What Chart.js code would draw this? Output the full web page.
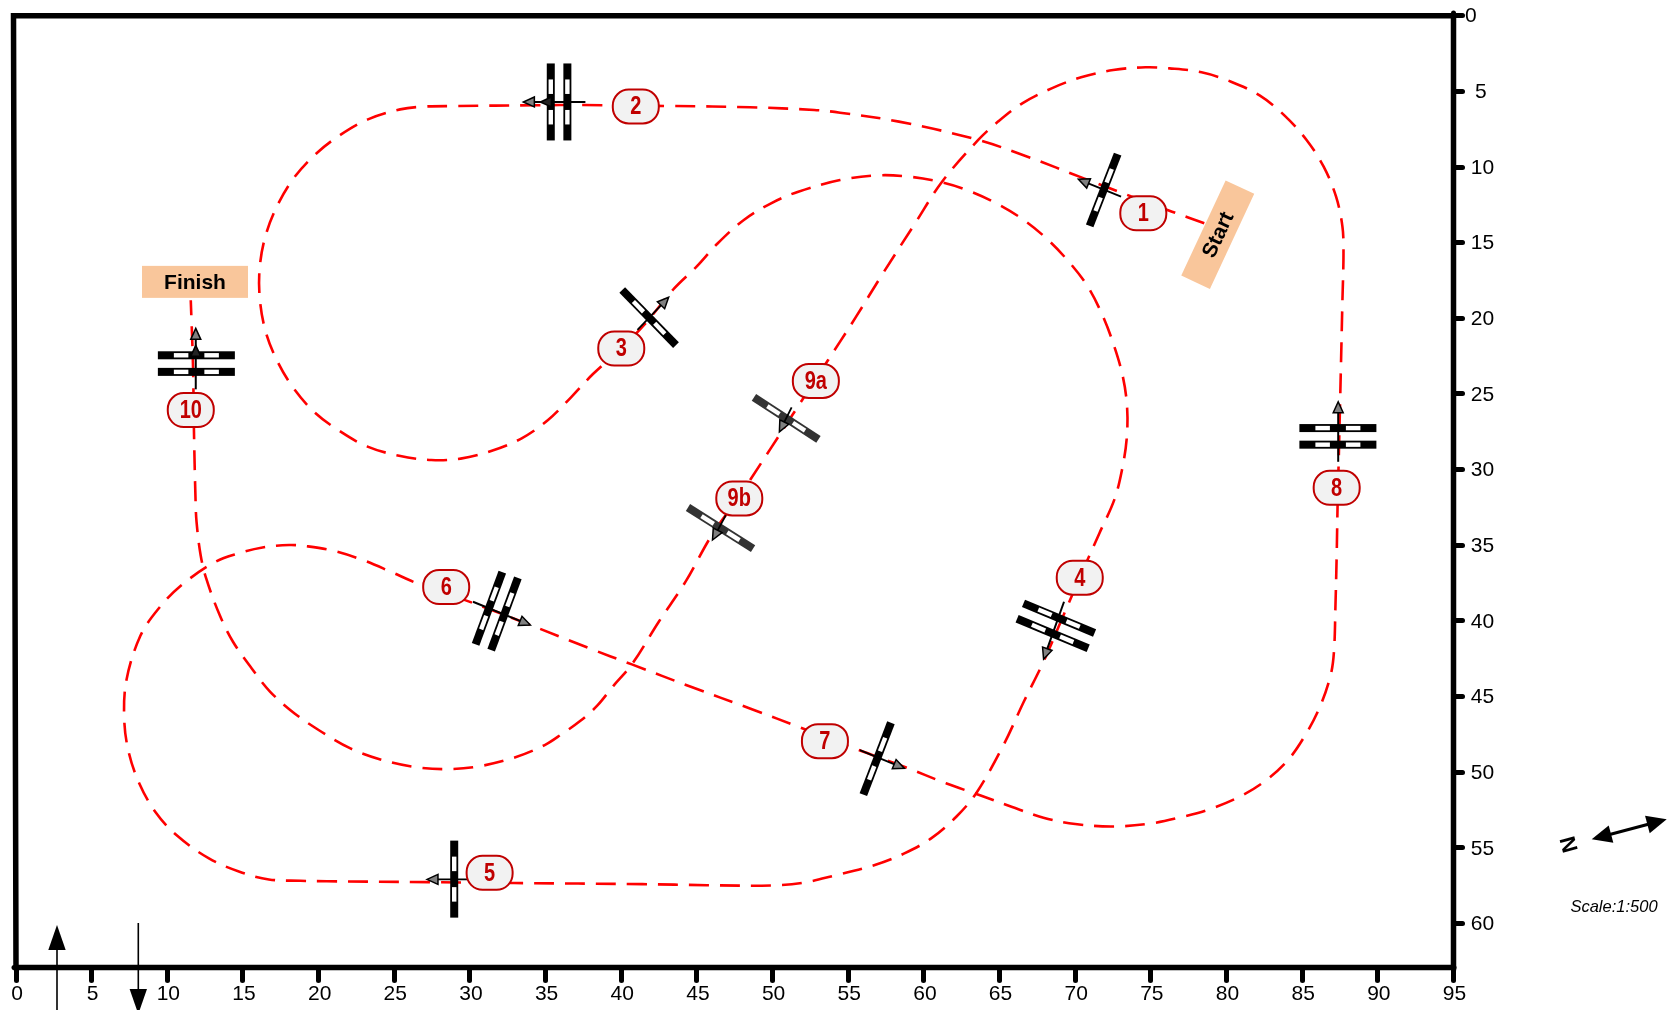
<!DOCTYPE html>
<html>
<head>
<meta charset="utf-8">
<title>Course diagram</title>
<script src="https://cdn.jsdelivr.net/npm/chart.js@4"></script>
<style>
    html, body { margin: 0; padding: 0; background: #ffffff; }
    canvas { display: block; }
</style>
</head>
<body>
<canvas id="courseChart" width="1680" height="1010"></canvas>
<script>
/* ---- DATA (axis units) ---- */
const xTicks = [0, 5, 10, 15, 20, 25, 30, 35, 40, 45, 50, 55, 60, 65, 70, 75, 80, 85, 90, 95];
const yTicks = [0, 5, 10, 15, 20, 25, 30, 35, 40, 45, 50, 55, 60];

const pathX = [
    78.53, 76.4, 73.75, 70.57, 66.85, 63.59, 58.35, 54.46, 52.75, 48.5, 43.5, 40.96, 37.5, 34.3, 29.03, 26.9,
    25.39, 23.26, 21.46, 19.83, 18.38, 17.28, 16.5, 16.11, 16.11, 16.47, 17.2, 18.27, 19.69, 21.35, 23.19, 25.32,
    27.44, 29.39, 31.4, 33.42, 35.16, 36.68, 38.13, 40, 41.6, 43.5, 44.96, 46.38, 48.1, 49.9, 51.7, 54.46,
    56.94, 59.06, 61.2, 62.78, 64.65, 66.5, 68.09, 69.57, 70.85, 71.81, 72.55, 73.15, 73.43, 73.4, 73.08, 72.58,
    71.6, 70.4, 69.15, 67.9, 66.6, 65.26, 63.49, 62.14, 60.48, 58.71, 56.76, 54, 52, 49.9, 45.67, 41.4,
    32.9, 27.26, 20.54, 18.8, 16.71, 14.77, 12.75, 10.6, 9.2, 8.15, 7.44, 7.15, 7.3, 8.22, 9.4,
    10.87, 13.1, 14.7, 16.29, 18.06, 19.3, 21.07, 23.0, 24.78, 26.48, 30.09, 34, 37.9, 40.7, 44.6, 48.5,
    52, 55.7, 58.7, 61.5, 63.66, 65.79, 67.9, 70, 72.5, 75, 77.1, 78.71, 80.73, 82.42, 84.02, 85.26,
    86.18, 86.88, 87.1, 87.2, 87.28, 87.34, 87.42, 87.56, 87.66, 87.73, 87.66, 87.24, 86.42, 85.29, 83.84, 82.21,
    80.3, 78.35, 76.23, 74.64, 72.51, 70.39, 68.44, 66.5, 64.9, 63.59, 61.2, 59.42, 57.29, 55.52, 54.46, 52.9,
    51.33, 49.9, 48.5, 47.79, 46, 44.25, 42.48, 40.7, 39.47, 38.41, 37.3, 36.1, 34.94, 32.96, 30.45, 28.3, 26.2,
    24.08, 22.1, 20.18, 18.41, 16.8, 15.58, 14.34, 13.46, 12.57, 12.2, 11.93, 11.86, 11.76, 11.7, 11.55
];
const pathY = [
    13.72, 12.95, 11.96, 10.75, 9.32, 8.21, 7.0, 6.41, 6.23, 6.05, 5.97, 5.95, 5.9, 5.92, 5.97, 6.01,
    6.19, 6.85, 7.86, 9.12, 10.7, 12.53, 14.51, 16.59, 18.68, 20.77, 22.69, 24.52, 26.17, 27.42, 28.46, 29.08,
    29.36, 29.27, 28.77, 27.93, 26.72, 25.22, 23.68, 21.98, 20.33, 18.02, 16.6, 15.04, 13.5, 12.4, 11.63, 10.86,
    10.55, 10.64, 11.01, 11.5, 12.33, 13.43, 14.71, 16.25, 17.93, 19.82, 21.76, 23.86, 25.88, 27.98, 30.07, 32.0,
    34.2, 36.9, 39.8, 42.7, 45.34, 48.2, 51.33, 52.94, 54.37, 55.36, 56.13, 56.85, 57.3, 57.48, 57.46, 57.39,
    57.32, 57.26, 57.2, 57.17, 57.08, 56.57, 55.69, 54.15, 52.6, 50.74, 48.64, 46.44, 43.9, 40.98, 39.21,
    37.69, 36.13, 35.53, 35.14, 34.98, 35.07, 35.38, 36, 36.75, 37.5, 38.77, 40.27, 41.81, 42.87, 44.35, 45.78,
    47.1, 48.53, 49.63, 50.74, 51.5, 52.28, 53, 53.42, 53.58, 53.38, 52.94, 52.5, 51.68, 50.67, 49.24, 47.45,
    45.65, 43.58, 42.03, 38.95, 35.64, 32.34, 29.14, 23.2, 18.79, 15.7, 13.94, 11.96, 9.98, 8.21, 6.6, 5.28,
    4.36, 3.74, 3.48, 3.41, 3.59, 4.07, 4.8, 5.79, 7.0, 8.21, 10.97, 13.72, 17.03, 19.89, 21.54, 23.94,
    26.36, 28.56, 30.71, 31.8, 34.3, 37.4, 40.05, 42.87, 44.3, 45.6, 46.6, 47.45, 48.2, 49.02, 49.63, 49.79, 49.63,
    49.15, 48.42, 47.32, 46.11, 44.68, 43.14, 41.37, 39.61, 37.19, 35.64, 33.44, 31.8, 27.4, 23.2, 18.8
];

const stopLabels = ['1', '2', '3', '4', '5', '6', '7', '8', '9a', '9b', '10'];
const stopX = [74.5, 40.96, 40.0, 70.3, 31.3, 28.43, 53.46, 87.28, 52.86, 47.8, 11.55];
const stopY = [13.06, 6.0, 22.0, 37.14, 56.64, 37.76, 47.94, 31.2, 24.14, 31.9, 26.06];

const gateX = [71.88, 35.89, 41.84, 68.72, 28.96, 31.77, 56.91, 87.36, 50.9, 46.56, 11.92];
const gateY = [11.52, 5.7, 19.95, 40.32, 57.06, 39.35, 49.1, 27.8, 26.61, 33.86, 22.99];
const gateAngle = [111.3, 90, 45.7, 22.6, 90, 110.3, 111, 0, 33.1, 32.3, 0];
const gateBars = [1, 2, 1, 2, 1, 2, 1, 2, 1, 1, 2];

const arrowTailX = [73.03, 37.63, 41.07, 69.26, 30.17, 30.2, 55.77, 87.38, 51.26, 46.91, 11.88];
const arrowTailY = [11.96, 5.7, 20.77, 38.73, 57.08, 38.73, 48.53, 29.48, 25.88, 33, 24.69];
const arrowTipX = [70.21, 33.53, 43.13, 67.91, 27.16, 33.99, 58.71, 87.38, 50.45, 46.03, 11.88];
const arrowTipY = [10.81, 5.7, 18.61, 42.52, 57.08, 40.27, 49.74, 25.51, 27.5, 34.65, 20.66];

const boxLabels = ['Start', 'Finish'];
const boxX = [79.42, 11.83];
const boxY = [14.47, 17.59];

const northLabel = 'N';
const scaleLabel = 'Scale:1:500';

/* ---- COLOURS ---- */
const RED = '#ff0000';
const DARK_RED = '#c00000';
const BOX_FILL = '#f9c69b';
const FONT = '"Liberation Sans", Arial, sans-serif';

/* ---- HELPERS ---- */
function arrowHead(ctx, tipX, tipY, angle, length, halfWidth, fill, stroke) {
    ctx.save();
    ctx.translate(tipX, tipY);
    ctx.rotate(angle);
    ctx.beginPath();
    ctx.moveTo(0, 0);
    ctx.lineTo(-length, -halfWidth);
    ctx.lineTo(-length, halfWidth);
    ctx.closePath();
    ctx.fillStyle = fill;
    ctx.fill();
    if (stroke) {
        ctx.strokeStyle = stroke;
        ctx.lineWidth = 1.5;
        ctx.lineJoin = 'miter';
        ctx.stroke();
    }
    ctx.restore();
}

function drawGate(ctx, scales, i) {
    const cx = scales.x.getPixelForValue(gateX[i]);
    const cy = scales.y.getPixelForValue(gateY[i]);
    const dark = stopLabels[i].startsWith('9');
    const offsets = gateBars[i] === 2 ? [-8.3, 8.3] : [0];

    ctx.save();
    ctx.translate(cx, cy);
    ctx.rotate(gateAngle[i] * Math.PI / 180);
    offsets.forEach(off => {
        ctx.fillStyle = dark ? '#333333' : '#000000';
        ctx.fillRect(-38.5, off - 4, 77, 8);
        ctx.fillStyle = '#ffffff';
        ctx.fillRect(-22.5, off - 2.2, 14.5, 4.4);
        ctx.fillRect(8, off - 2.2, 14.5, 4.4);
    });
    ctx.restore();

    // arrow across the gate
    const x0 = scales.x.getPixelForValue(arrowTailX[i]);
    const y0 = scales.y.getPixelForValue(arrowTailY[i]);
    const x1 = scales.x.getPixelForValue(arrowTipX[i]);
    const y1 = scales.y.getPixelForValue(arrowTipY[i]);
    const angle = Math.atan2(y1 - y0, x1 - x0);

    ctx.save();
    ctx.strokeStyle = '#000000';
    ctx.lineWidth = gateBars[i] === 2 ? 2 : 1.8;
    ctx.lineCap = 'butt';
    ctx.beginPath();
    ctx.moveTo(x0, y0);
    ctx.lineTo(x1 - 8 * Math.cos(angle), y1 - 8 * Math.sin(angle));
    ctx.stroke();
    ctx.restore();

    if (stopLabels[i] === '2' || stopLabels[i] === '10') {
        arrowHead(ctx, x1 + 17 * Math.cos(angle + Math.PI), y1 + 17 * Math.sin(angle + Math.PI), angle, 11, 5, '#222222', '#000000');
    }
    arrowHead(ctx, x1, y1, angle, 11, 5, '#808080', '#000000');
}

function drawStop(ctx, scales, i) {
    const cx = scales.x.getPixelForValue(stopX[i]);
    const cy = scales.y.getPixelForValue(stopY[i]);

    ctx.save();
    ctx.beginPath();
    ctx.roundRect(cx - 23, cy - 17, 46, 34, 16);
    ctx.fillStyle = '#f2f2f2';
    ctx.fill();
    ctx.strokeStyle = DARK_RED;
    ctx.lineWidth = 2;
    ctx.stroke();
    // the reference numbers are condensed, so squeeze the text sideways
    ctx.translate(cx, cy);
    ctx.scale(0.8, 1);
    ctx.fillStyle = DARK_RED;
    ctx.font = 'bold 25px ' + FONT;
    ctx.textAlign = 'center';
    ctx.textBaseline = 'middle';
    ctx.fillText(stopLabels[i], 0, 1);
    ctx.restore();
}

function drawBox(ctx, scales, i) {
    const cx = scales.x.getPixelForValue(boxX[i]);
    const cy = scales.y.getPixelForValue(boxY[i]);
    const rotated = boxLabels[i] === 'Start';

    ctx.save();
    ctx.translate(cx, cy);
    if (rotated) ctx.rotate(-65 * Math.PI / 180);
    ctx.fillStyle = BOX_FILL;
    ctx.fillRect(rotated ? -52.5 : -53, rotated ? -15.8 : -16, rotated ? 105 : 106, rotated ? 31.6 : 32);
    ctx.fillStyle = '#000000';
    ctx.font = 'bold 21px ' + FONT;
    ctx.textAlign = 'center';
    ctx.textBaseline = 'middle';
    ctx.fillText(boxLabels[i], 0, 1);
    ctx.restore();
}

/* ---- PLUGIN: course furniture on top of the path ---- */
const courseFurniture = {
    id: 'courseFurniture',
    beforeDraw(chart) {
        // rounded ends on the axis ticks
        chart.ctx.lineCap = 'round';
    },
    afterDatasetsDraw(chart) {
        const ctx = chart.ctx;
        const scales = chart.scales;
        stopLabels.forEach((label, i) => drawGate(ctx, scales, i));
        stopLabels.forEach((label, i) => drawStop(ctx, scales, i));
        boxLabels.forEach((label, i) => drawBox(ctx, scales, i));
    },
    afterDraw(chart) {
        const ctx = chart.ctx;
        const area = chart.chartArea;

        // frame, the left edge leans out slightly towards the top
        ctx.save();
        ctx.strokeStyle = '#000000';
        ctx.lineWidth = 5.5;
        ctx.lineCap = 'butt';
        ctx.lineJoin = 'miter';
        ctx.beginPath();
        ctx.moveTo(area.left - 2.5, area.top);
        ctx.lineTo(area.right, area.top);
        ctx.lineTo(area.right, area.bottom);
        ctx.lineTo(area.left, area.bottom);
        ctx.closePath();
        ctx.stroke();

        // entry and exit arrows at the bottom left
        ctx.lineWidth = 1.6;
        ctx.beginPath();
        ctx.moveTo(57, 1010);
        ctx.lineTo(57, 945);
        ctx.moveTo(138.3, 923);
        ctx.lineTo(138.3, 995);
        ctx.stroke();
        arrowHead(ctx, 57, 925, -Math.PI / 2, 25, 8.7, '#000000');
        arrowHead(ctx, 138.3, 1014, Math.PI / 2, 25, 8.7, '#000000');

        // north arrow
        ctx.lineWidth = 3;
        ctx.beginPath();
        ctx.moveTo(1605, 835.8);
        ctx.lineTo(1653, 823);
        ctx.stroke();
        const northAngle = Math.atan2(-20, 75);
        arrowHead(ctx, 1666.7, 819.3, northAngle, 20, 9, '#000000');
        arrowHead(ctx, 1591.7, 839.3, northAngle + Math.PI, 20, 9, '#000000');

        ctx.fillStyle = '#000000';
        ctx.textAlign = 'center';
        ctx.textBaseline = 'middle';
        ctx.translate(1569, 844.3);
        ctx.rotate(-105 * Math.PI / 180);
        ctx.font = 'bold 22px ' + FONT;
        ctx.fillText(northLabel, 0, 1);
        ctx.restore();

        ctx.save();
        ctx.fillStyle = '#000000';
        ctx.font = 'italic 16.5px ' + FONT;
        ctx.textAlign = 'center';
        ctx.textBaseline = 'middle';
        ctx.fillText(scaleLabel, 1614, 907.5);
        ctx.restore();
    }
};

/* ---- CHART ---- */
function yTickText(value) {
    if (value === 0) return '0';
    return value < 10 ? ' \u2009' + value : ' ' + value;
}

new Chart(document.getElementById('courseChart'), {
    type: 'scatter',
    data: {
        datasets: [{
            label: 'Course',
            data: pathX.map((x, i) => ({ x: x, y: pathY[i] })),
            showLine: true,
            borderColor: RED,
            borderWidth: 2.6,
            borderDash: [20, 11],
            tension: 0.35,
            pointRadius: 0,
            clip: false
        }]
    },
    options: {
        responsive: false,
        animation: false,
        devicePixelRatio: 1,
        layout: { padding: { left: 16, top: 15.7, right: 0, bottom: 0 } },
        plugins: {
            legend: { display: false },
            tooltip: { enabled: false }
        },
        scales: {
            x: {
                type: 'linear',
                position: 'bottom',
                min: xTicks[0],
                max: xTicks[xTicks.length - 1],
                afterFit(scale) { scale.height = 42.5; },
                grid: { drawOnChartArea: false, tickLength: 13, tickWidth: 5, tickColor: '#000000' },
                border: { display: true, color: '#000000', width: 5 },
                ticks: {
                    stepSize: 5,
                    autoSkip: false,
                    maxRotation: 0,
                    padding: 1,
                    labelOffset: 1,
                    color: '#000000',
                    font: { family: FONT, size: 21 }
                }
            },
            y: {
                type: 'linear',
                position: 'right',
                reverse: true,
                min: yTicks[0],
                max: 62.9,
                afterFit(scale) { scale.width = 226.5; },
                grid: { drawOnChartArea: false, tickLength: 9, tickWidth: 5, tickColor: '#000000' },
                border: { display: true, color: '#000000', width: 5 },
                ticks: {
                    stepSize: 5,
                    includeBounds: false,
                    autoSkip: false,
                    crossAlign: 'near',
                    padding: 2.5,
                    labelOffset: 1,
                    color: '#000000',
                    font: { family: FONT, size: 21 },
                    callback: yTickText
                }
            }
        }
    },
    plugins: [courseFurniture]
});
</script>
</body>
</html>
